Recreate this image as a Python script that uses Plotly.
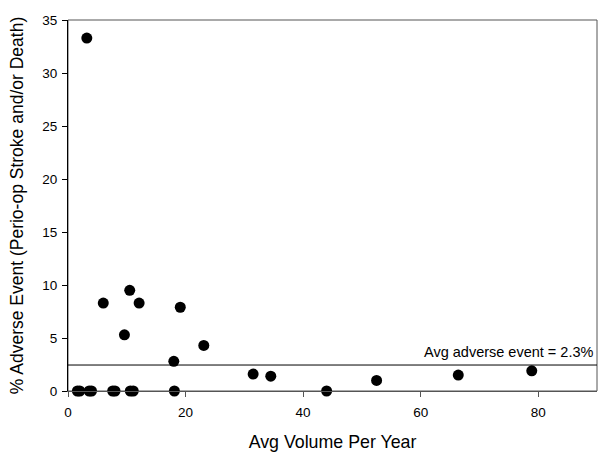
import plotly.graph_objects as go

# Avg volume per year vs % adverse events
volume = [3.2, 1.6, 2.0, 3.6, 4.0, 7.6, 8.0, 10.6, 11.1, 18.1,
          6.0, 10.5, 12.1, 9.6, 19.1, 18.0, 23.1,
          31.5, 34.5, 44.0, 52.5, 66.4, 78.9]
adverse = [33.3, 0, 0, 0, 0, 0, 0, 0, 0, 0,
           8.3, 9.5, 8.3, 5.3, 7.9, 2.8, 4.3,
           1.6, 1.4, 0, 1.0, 1.5, 1.9]
avg_line = 2.45
avg_label = "Avg adverse event = 2.3%"

xticks = [0, 20, 40, 60, 80]
yticks = [0, 5, 10, 15, 20, 25, 30, 35]

fig = go.Figure()
fig.add_trace(go.Scatter(x=volume, y=adverse, mode="markers",
                         marker=dict(color="black", size=11),
                         cliponaxis=False, showlegend=False))

# average line across the plot
fig.add_shape(type="line", xref="paper", x0=0, x1=1, yref="y", y0=avg_line, y1=avg_line,
              line=dict(color="black", width=1))
fig.add_annotation(xref="paper", x=1, y=avg_line, yref="y", text=avg_label,
                   showarrow=False, xanchor="right", yanchor="bottom", yshift=3, xshift=-1,
                   font=dict(size=14.5, color="black"))

# frame on top/right
fig.add_shape(type="rect", xref="paper", yref="paper", x0=0, x1=1, y0=0, y1=1,
              line=dict(color="#555555", width=1), layer="below")

fig.update_xaxes(range=[0, 90], tickvals=xticks, ticks="outside", ticklen=5,
                 tickcolor="#555555", showline=True, linecolor="#555555", linewidth=1,
                 showgrid=False, zeroline=False, automargin=False, ticklabelstandoff=4,
                 title=dict(text="Avg Volume Per Year", font=dict(size=17.8), standoff=16),
                 tickfont=dict(size=13.5))
fig.update_yaxes(range=[0, 35], tickvals=yticks, ticks="outside", ticklen=5,
                 tickcolor="black", showline=True, linecolor="black", linewidth=1,
                 showgrid=False, zeroline=False, automargin=False, ticklabelstandoff=2,
                 title=dict(text="% Adverse Event (Perio-op Stroke and/or Death)",
                            font=dict(size=17.5), standoff=14),
                 tickfont=dict(size=13.5))

fig.update_layout(width=610, height=453, plot_bgcolor="white", paper_bgcolor="white",
                  margin=dict(l=68, r=13, t=20, b=62),
                  font=dict(family="Liberation Sans, Arial, sans-serif", color="black"))

# drop the default page margin so the figure sits at the window corner
fig.write_html("out.html", config={"displayModeBar": False},
               post_script="document.body.style.margin='0px';")
